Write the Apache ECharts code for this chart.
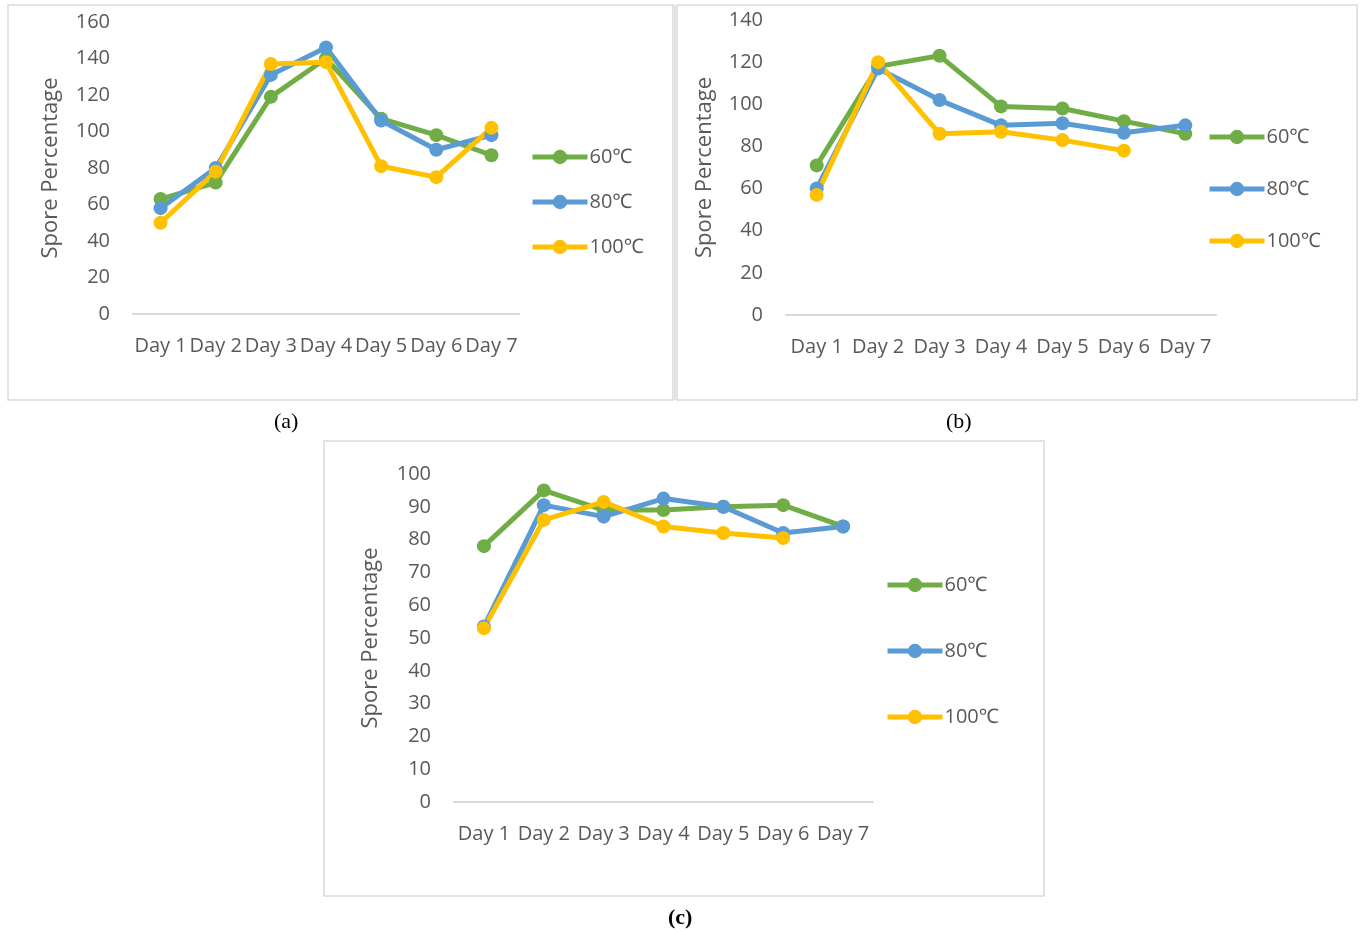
<!DOCTYPE html>
<html>
<head>
<meta charset="utf-8">
<script src="https://cdn.jsdelivr.net/npm/echarts@6/dist/echarts.min.js"></script>
<style>
html,body{margin:0;padding:0;background:#fff;}
#c{width:1360px;height:932px;}
</style>
</head>
<body>
<div id="c"></div>
<script>
// Categories and tick labels
var days = ['Day 1', 'Day 2', 'Day 3', 'Day 4', 'Day 5', 'Day 6', 'Day 7'];
var seriesNames = ['60\u2103', '80\u2103', '100\u2103'];
var panelLabels = ['(a)', '(b)', '(c)'];
var yAxisTitle = 'Spore Percentage';

// Panel (a)
var a60 = [63, 72, 119, 140, 107, 98, 87];
var a80 = [58, 80, 131, 146, 106, 90, 98];
var a100 = [50, 78, 137, 138, 81, 75, 102];
// Panel (b)
var b60 = [71, 118, 123, 99, 98, 92, 86];
var b80 = [60, 117, 102, 90, 91, 86.5, 90];
var b100 = [57, 120, 86, 87, 83, 78, null];
// Panel (c)
var c60 = [78, 95, 89, 89, 90, 90.5, 84];
var c80 = [53.5, 90.5, 87, 92.5, 90, 82, 84];
var c100 = [53, 86, 91.5, 84, 82, 80.5, null];

// Y axis ranges
var yMax = [160, 140, 100];
var yStep = [20, 20, 10];

var colors = ['#70AD47', '#5B9BD5', '#FFC000'];
var font = '"Open Sans", "Noto Sans", sans-serif';
var txt = '#595959';

var chart = echarts.init(document.getElementById('c'), null, {renderer: 'canvas'});

var grids = [
  {left: 133, top: 22, width: 386, height: 292},
  {left: 786, top: 20, width: 430, height: 295},
  {left: 454, top: 474, width: 419, height: 328}
];
var nameGaps = [71, 70, 72];

var xAxes = [], yAxes = [], series = [], legends = [];
var data = [[a60, a80, a100], [b60, b80, b100], [c60, c80, c100]];
var legendPos = [
  {left: 525, top: 140, gap: 21},
  {left: 1202, top: 120, gap: 28},
  {left: 880, top: 568, gap: 42}
];

for (var p = 0; p < 3; p++) {
  xAxes.push({
    type: 'category', gridIndex: p, data: days, boundaryGap: true,
    axisLine: {show: true, lineStyle: {color: '#d9d9d9', width: 2}},
    axisTick: {show: false},
    axisLabel: {interval: 0, color: txt, fontFamily: font, fontSize: 20, margin: 22}
  });
  yAxes.push({
    type: 'value', gridIndex: p, min: 0, max: yMax[p], interval: yStep[p],
    axisLine: {show: false}, axisTick: {show: false}, splitLine: {show: false},
    axisLabel: {color: txt, fontFamily: font, fontSize: 20, margin: 23},
    name: yAxisTitle, nameLocation: 'middle', nameGap: nameGaps[p], nameRotate: 90,
    nameTextStyle: {color: txt, fontFamily: font, fontSize: 22}
  });
  for (var s = 0; s < 3; s++) {
    series.push({
      type: 'line', name: seriesNames[s], xAxisIndex: p, yAxisIndex: p,
      data: data[p][s], color: colors[s],
      lineStyle: {width: 5, color: colors[s]},
      itemStyle: {color: colors[s]},
      symbol: 'circle', symbolSize: 14, showSymbol: true,
      emphasis: {disabled: true}
    });
  }
  legends.push({
    orient: 'vertical', left: legendPos[p].left, top: legendPos[p].top,
    itemGap: legendPos[p].gap, itemWidth: 55, itemHeight: 18,
    data: seriesNames,
    lineStyle: {width: 5},
    textStyle: {color: txt, fontFamily: font, fontSize: 20, lineHeight: 24, padding: [0, 0, 0, -3]},
    selectedMode: false
  });
}

chart.setOption({
  animation: false,
  backgroundColor: '#ffffff',
  grid: grids,
  xAxis: xAxes,
  yAxis: yAxes,
  legend: legends,
  series: series,
  graphic: [
    {type: 'rect', shape: {x: 8, y: 5, width: 665, height: 395}, style: {fill: 'none', stroke: '#d9d9d9', lineWidth: 1.5}, silent: true, z: -1},
    {type: 'rect', shape: {x: 677, y: 5, width: 680, height: 395}, style: {fill: 'none', stroke: '#d9d9d9', lineWidth: 1.5}, silent: true, z: -1},
    {type: 'rect', shape: {x: 673, y: 5, width: 4, height: 395}, style: {fill: '#e3e3e3'}, silent: true, z: -1},
    {type: 'rect', shape: {x: 324, y: 441, width: 720, height: 455}, style: {fill: 'none', stroke: '#d9d9d9', lineWidth: 1.5}, silent: true, z: -1},
    {type: 'text', left: 289 - 15, top: 411, style: {text: panelLabels[0], fill: '#000', font: '22px "Liberation Serif", "DejaVu Serif", serif'}},
    {type: 'text', left: 961 - 15, top: 411, style: {text: panelLabels[1], fill: '#000', font: '22px "Liberation Serif", "DejaVu Serif", serif'}},
    {type: 'text', left: 683 - 15, top: 907, style: {text: panelLabels[2], fill: '#000', font: 'bold 22px "Liberation Serif", "DejaVu Serif", serif'}}
  ]
});
</script>
</body>
</html>
